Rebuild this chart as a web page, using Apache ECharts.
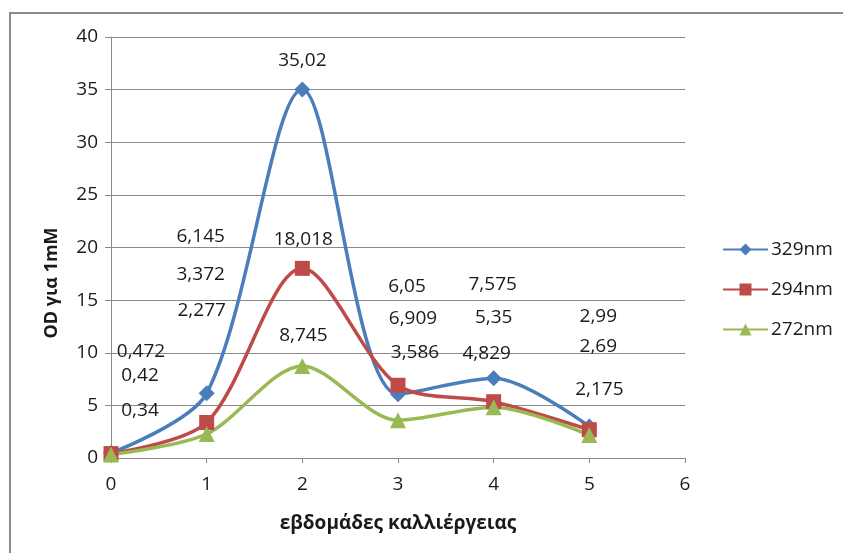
<!DOCTYPE html>
<html>
<head>
<meta charset="utf-8">
<script src="https://cdn.jsdelivr.net/npm/echarts@6/dist/echarts.min.js"></script>
<style>
  html, body { margin: 0; padding: 0; background: #fff; }
  #chart { width: 843px; height: 553px; }
</style>
</head>
<body>
<div id="chart"></div>
<script>
// Weeks of culture (x) and optical density per 1 mM at three wavelengths
const weeks = [0, 1, 2, 3, 4, 5];
const seriesNames = ['329nm', '294nm', '272nm'];
const od329 = [0.472, 6.145, 35.02, 6.05, 7.575, 2.99];
const od294 = [0.42, 3.372, 18.018, 6.909, 5.35, 2.69];
const od272 = [0.34, 2.277, 8.745, 3.586, 4.829, 2.175];
const yTicks = [0, 5, 10, 15, 20, 25, 30, 35, 40];
const xTicks = [0, 1, 2, 3, 4, 5, 6];
const xTitle = 'εβδομάδες καλλιέργειας';
const yTitle = 'OD για 1mM';

// Hand-placed label offsets (px from each marker), like dragged spreadsheet labels
const labelShift329 = [[30, -101], [-6, -157], [0, -29], [9, -108], [-1, -94], [9, -110]];
const labelShift294 = [[29, -78], [-6, -148], [1, -29], [15, -67], [0, -84], [9, -83]];
const labelShift272 = [[29, -44], [-5, -123], [1, -30], [17, -68], [-7, -54], [10, -46]];

const FONT = '"Open Sans", "Noto Sans", sans-serif';
const TEXT = '#1a1a1a';
const fmt = v => String(v).replace('.', ',');

function buildData(values, shifts) {
  return weeks.map((w, i) => ({
    value: [w, values[i]],
    label: { offset: shifts[i] }
  }));
}

function makeSeries(name, values, shifts, color, symbol, size) {
  return {
    name: name,
    type: 'line',
    smooth: 0.3,
    data: buildData(values, shifts),
    symbol: symbol,
    symbolSize: size,
    lineStyle: { color: color, width: 3.5 },
    itemStyle: { color: color },
    label: {
      show: true,
      position: 'inside',
      align: 'center',
      verticalAlign: 'middle',
      fontFamily: FONT,
      fontSize: 19,
      color: TEXT,
      formatter: p => fmt(p.value[1])
    },
    emphasis: { disabled: true },
    z: 3
  };
}

const chart = echarts.init(document.getElementById('chart'), null, { renderer: 'canvas' });

chart.setOption({
  animation: false,
  backgroundColor: '#ffffff',
  textStyle: { fontFamily: FONT },
  graphic: [{
    type: 'rect',
    shape: { x: 10, y: 13, width: 900, height: 600 },
    style: { fill: 'none', stroke: '#8a8a8a', lineWidth: 2 },
    silent: true,
    z: 0
  }, {
    // vertical axis title, sitting a little below the plot's middle
    type: 'text',
    x: 52,
    y: 283,
    rotation: Math.PI / 2,
    style: {
      text: yTitle,
      fontFamily: FONT,
      fontSize: 18,
      fontWeight: 'bold',
      fill: TEXT,
      align: 'center',
      verticalAlign: 'middle'
    },
    silent: true
  }],
  grid: { left: 111, right: 158, top: 37, bottom: 95 },
  legend: {
    orient: 'vertical',
    left: 722,
    top: 240,
    padding: 0,
    itemWidth: 45,
    itemHeight: 15,
    itemGap: 21,
    data: seriesNames,
    textStyle: { fontFamily: FONT, fontSize: 19, color: TEXT, lineHeight: 19, padding: [0, 0, 0, -2] },
    selectedMode: false
  },
  xAxis: {
    type: 'value',
    min: xTicks[0],
    max: xTicks[xTicks.length - 1],
    interval: 1,
    name: xTitle,
    nameLocation: 'middle',
    nameGap: 56,
    nameTextStyle: { fontFamily: FONT, fontSize: 19, fontWeight: 'bold', color: TEXT },
    axisLine: { show: true, lineStyle: { color: '#8a8a8a', width: 1 } },
    axisTick: { show: true, length: 5, lineStyle: { color: '#8a8a8a' } },
    axisLabel: { fontFamily: FONT, fontSize: 19, color: TEXT, margin: 17 },
    splitLine: { show: false }
  },
  yAxis: {
    type: 'value',
    min: yTicks[0],
    max: yTicks[yTicks.length - 1],
    interval: 5,
    axisLine: { show: true, lineStyle: { color: '#8a8a8a', width: 1 } },
    axisTick: { show: true, inside: false, length: 6, lineStyle: { color: '#8a8a8a' } },
    axisLabel: { fontFamily: FONT, fontSize: 19, color: TEXT, margin: 13 },
    splitLine: { show: true, lineStyle: { color: '#8a8a8a', width: 1 } }
  },
  series: [
    makeSeries(seriesNames[0], od329, labelShift329, '#4a7ebb', 'diamond', 16),
    makeSeries(seriesNames[1], od294, labelShift294, '#be4b48', 'rect', 15),
    makeSeries(seriesNames[2], od272, labelShift272, '#98b954', 'triangle', 16)
  ]
});
</script>
</body>
</html>
